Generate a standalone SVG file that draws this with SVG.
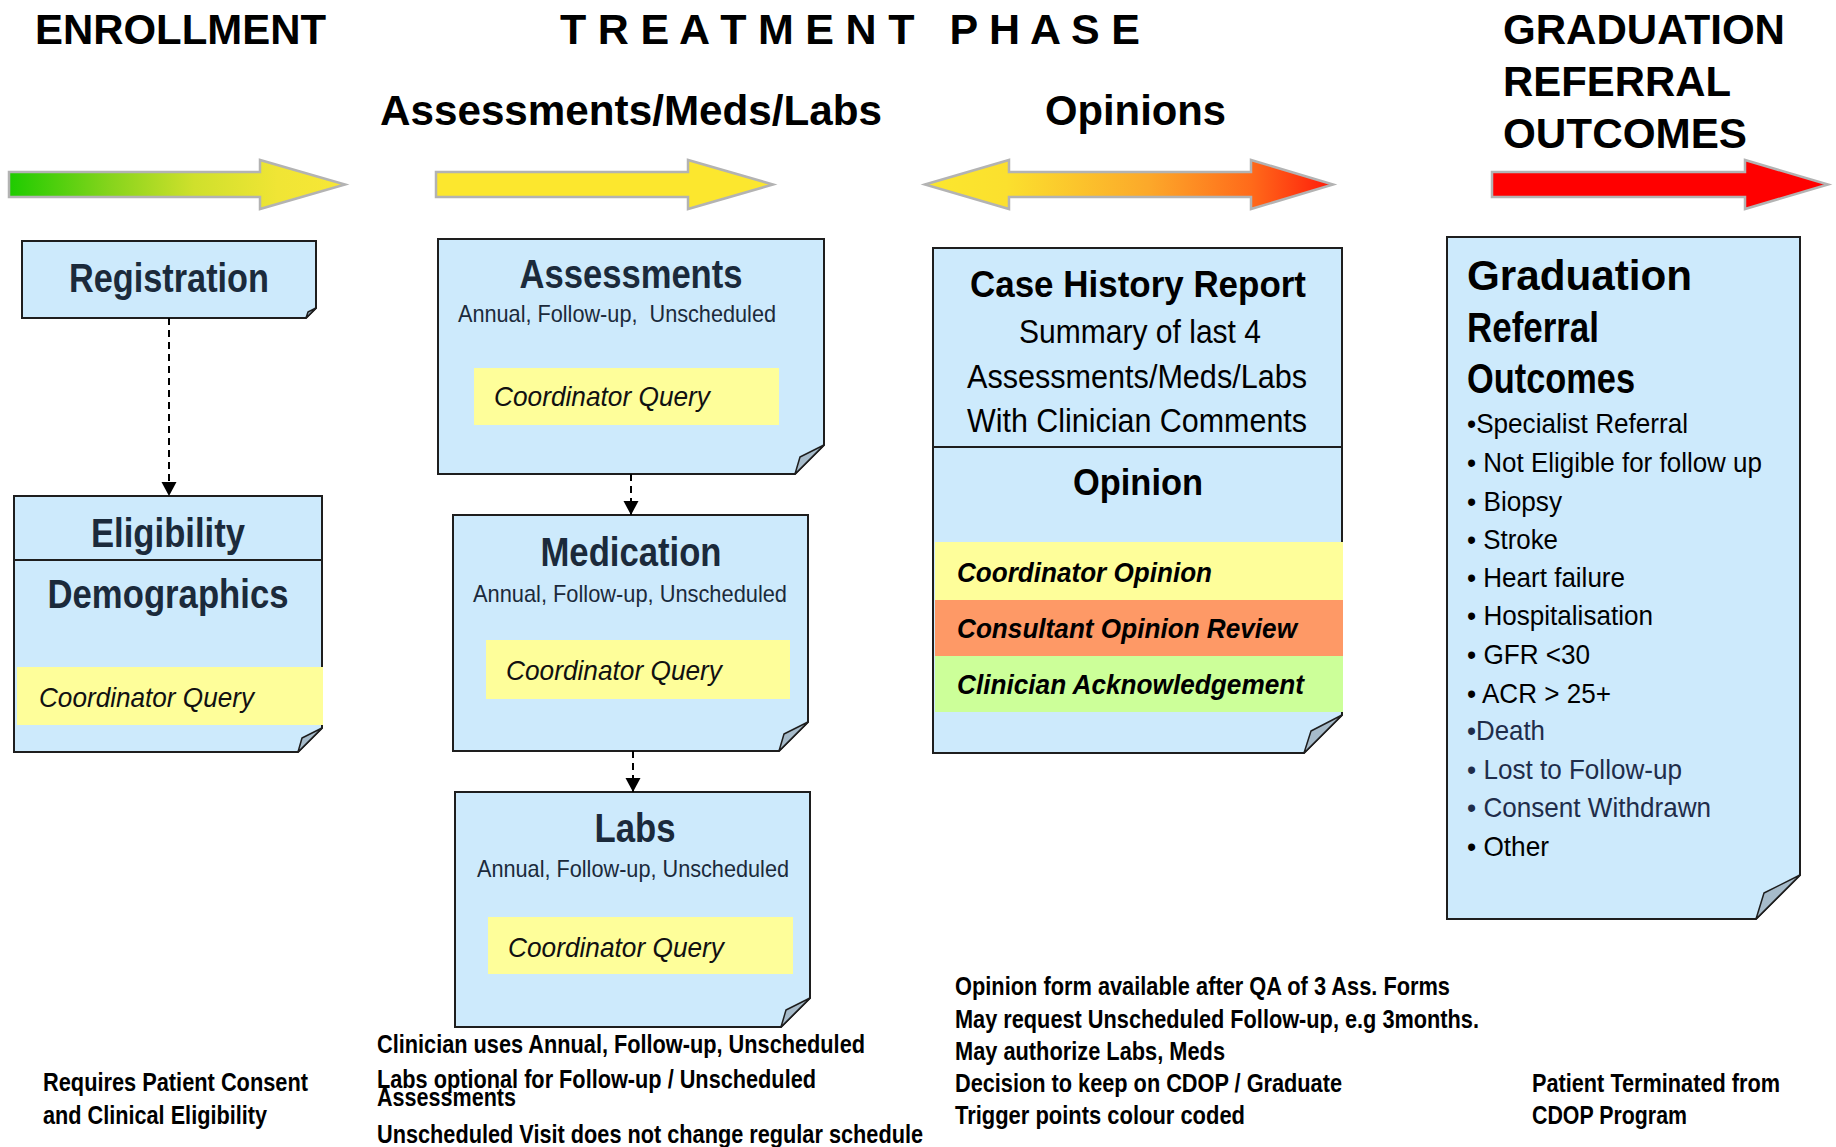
<svg xmlns="http://www.w3.org/2000/svg" width="1836" height="1147" viewBox="0 0 1836 1147">
<defs>
<linearGradient id="gEnroll" gradientUnits="userSpaceOnUse" x1="9" y1="0" x2="345" y2="0">
<stop offset="0" stop-color="#1ecb00"/>
<stop offset="0.3" stop-color="#86d41c"/>
<stop offset="0.55" stop-color="#cfe02c"/>
<stop offset="0.8" stop-color="#f0e535"/>
<stop offset="1" stop-color="#f8e736"/>
</linearGradient>
<linearGradient id="gOpin" gradientUnits="userSpaceOnUse" x1="925" y1="0" x2="1333" y2="0">
<stop offset="0" stop-color="#fbe72e"/>
<stop offset="0.2" stop-color="#fbe02e"/>
<stop offset="0.55" stop-color="#fca82a"/>
<stop offset="0.8" stop-color="#ff6a1a"/>
<stop offset="1" stop-color="#ff1a0a"/>
</linearGradient>
<marker id="ah" markerUnits="userSpaceOnUse" markerWidth="16" markerHeight="16" viewBox="0 0 14 16" refX="14" refY="8" orient="auto">
<path d="M0,0.5 L14,8 L0,15.5 Z" fill="#000"/>
</marker>
</defs>
<style>
text{font-family:"Liberation Sans",Arial,sans-serif}
.hdr{font-weight:bold;fill:#000;font-size:43px}
.arrow{stroke:#b3b3b3;stroke-width:2.5;stroke-linejoin:miter}
.box{fill:#cdeafc;stroke:#1e1e1e;stroke-width:2}
.div{stroke:#1e1e1e;stroke-width:2;fill:none}
.fold{fill:#a6bbca;stroke:#1e1e1e;stroke-width:1.5;stroke-linejoin:round}
.by{fill:#fefe9a}
.bo{fill:#fe9966}
.bg{fill:#ccff99}
.bt{font-weight:bold;fill:#1b2a3b;font-size:41px;text-anchor:middle}
.ch{font-weight:bold;fill:#000;font-size:37px;text-anchor:middle}
.sub{fill:#1b2a3b;font-size:24px}
.cq{font-style:italic;fill:#111;font-size:28px}
.ct{fill:#000;font-size:34px;text-anchor:middle}
.op{font-style:italic;font-weight:bold;fill:#000;font-size:28px}
.gt{font-weight:bold;fill:#000;font-size:43px}
.gb{fill:#000;font-size:27.5px}
.gn{fill:#1f2d4a;font-size:27.5px}
.note{font-weight:bold;fill:#000;font-size:25px}
.conn{stroke:#000;stroke-width:2;stroke-dasharray:7 5;fill:none;marker-end:url(#ah)}
</style>

<g id="headers">
<text class="hdr" x="35" y="44" textLength="291" lengthAdjust="spacingAndGlyphs">ENROLLMENT</text>
<text class="hdr" x="560" y="44" textLength="580" lengthAdjust="spacing">T R E A T M E N T&#160;&#160;&#160;P H A S E</text>
<text class="hdr" x="380" y="125" textLength="502" lengthAdjust="spacingAndGlyphs">Assessments/Meds/Labs</text>
<text class="hdr" x="1045" y="125" textLength="181" lengthAdjust="spacingAndGlyphs">Opinions</text>
<text class="hdr" x="1503" y="44" textLength="282" lengthAdjust="spacingAndGlyphs">GRADUATION</text>
<text class="hdr" x="1503" y="96" textLength="228" lengthAdjust="spacingAndGlyphs">REFERRAL</text>
<text class="hdr" x="1503" y="148" textLength="244" lengthAdjust="spacingAndGlyphs">OUTCOMES</text>
</g>

<g id="phase-arrows">
<path class="arrow" fill="url(#gEnroll)" d="M9,172 H260 V160 L345,184.5 L260,209 V197 H9 Z"/>
<path class="arrow" fill="#fce72e" d="M436,172 H688 V160 L773,184.5 L688,209 V197 H436 Z"/>
<path class="arrow" fill="url(#gOpin)" d="M925,184.5 L1009,160 V172 H1251 V160 L1333,184.5 L1251,209 V197 H1009 V209 Z"/>
<path class="arrow" fill="#ff0000" d="M1492,172 H1745 V160 L1828,184.5 L1745,209 V197 H1492 Z"/>
</g>

<g id="registration">
<path class="box" d="M22,241 H316 V308 L306,318 H22 Z"/>
<path class="fold" d="M306,318 L308,312 L316,308 Z"/>
<text class="bt" x="169" y="292" textLength="200" lengthAdjust="spacingAndGlyphs">Registration</text>
</g>

<g id="eligibility">
<path class="box" d="M14,496 H322 V728 L298,752 H14 Z"/>
<path class="div" d="M14,560 H322"/>
<rect class="by" x="17" y="667" width="306" height="58"/>
<path class="fold" d="M298,752 L302,738 L322,728 Z"/>
<text class="bt" x="168" y="547" textLength="154" lengthAdjust="spacingAndGlyphs">Eligibility</text>
<text class="bt" x="168" y="608" textLength="241" lengthAdjust="spacingAndGlyphs">Demographics</text>
<text class="cq" x="39" y="707" textLength="215" lengthAdjust="spacingAndGlyphs">Coordinator Query</text>
</g>

<g id="assessments">
<path class="box" d="M438,239 H824 V445 L795,474 H438 Z"/>
<rect class="by" x="474" y="368" width="305" height="57"/>
<path class="fold" d="M795,474 L800,457 L824,445 Z"/>
<text class="bt" x="631" y="288" textLength="223" lengthAdjust="spacingAndGlyphs">Assessments</text>
<text class="sub" x="458" y="322" textLength="318" lengthAdjust="spacingAndGlyphs">Annual, Follow-up,&#160; Unscheduled</text>
<text class="cq" x="494" y="406" textLength="216" lengthAdjust="spacingAndGlyphs">Coordinator Query</text>
</g>

<g id="medication">
<path class="box" d="M453,515 H808 V722 L779,751 H453 Z"/>
<rect class="by" x="486" y="640" width="304" height="59"/>
<path class="fold" d="M779,751 L784,734 L808,722 Z"/>
<text class="bt" x="631" y="566" textLength="181" lengthAdjust="spacingAndGlyphs">Medication</text>
<text class="sub" x="473" y="602" textLength="314" lengthAdjust="spacingAndGlyphs">Annual, Follow-up, Unscheduled</text>
<text class="cq" x="506" y="680" textLength="216" lengthAdjust="spacingAndGlyphs">Coordinator Query</text>
</g>

<g id="labs">
<path class="box" d="M455,792 H810 V998 L781,1027 H455 Z"/>
<rect class="by" x="488" y="917" width="305" height="57"/>
<path class="fold" d="M781,1027 L786,1010 L810,998 Z"/>
<text class="bt" x="635" y="842" textLength="81" lengthAdjust="spacingAndGlyphs">Labs</text>
<text class="sub" x="477" y="877" textLength="312" lengthAdjust="spacingAndGlyphs">Annual, Follow-up, Unscheduled</text>
<text class="cq" x="508" y="957" textLength="216" lengthAdjust="spacingAndGlyphs">Coordinator Query</text>
</g>

<g id="case-history">
<path class="box" d="M933,248 H1342 V715 L1304,753 H933 Z"/>
<path class="div" d="M933,447 H1342"/>
<rect class="by" x="935" y="542" width="408" height="58"/>
<rect class="bo" x="935" y="600" width="408" height="56"/>
<rect class="bg" x="935" y="656" width="408" height="56"/>
<path class="fold" d="M1304,753 L1311,731 L1342,715 Z"/>
<text class="ch" x="1138" y="297" textLength="336" lengthAdjust="spacingAndGlyphs">Case History Report</text>
<text class="ct" x="1140" y="343" textLength="242" lengthAdjust="spacingAndGlyphs">Summary of last 4</text>
<text class="ct" x="1137" y="388" textLength="340" lengthAdjust="spacingAndGlyphs">Assessments/Meds/Labs</text>
<text class="ct" x="1137" y="432" textLength="340" lengthAdjust="spacingAndGlyphs">With Clinician Comments</text>
<text class="ch" x="1138" y="495" textLength="130" lengthAdjust="spacingAndGlyphs">Opinion</text>
<text class="op" x="957" y="582" textLength="255" lengthAdjust="spacingAndGlyphs">Coordinator Opinion</text>
<text class="op" x="957" y="638" textLength="340" lengthAdjust="spacingAndGlyphs">Consultant Opinion Review</text>
<text class="op" x="957" y="694" textLength="347" lengthAdjust="spacingAndGlyphs">Clinician Acknowledgement</text>
</g>

<g id="graduation">
<path class="box" d="M1447,237 H1800 V875 L1756,919 H1447 Z"/>
<path class="fold" d="M1756,919 L1764,893 L1800,875 Z"/>
<text class="gt" x="1467" y="290" textLength="225" lengthAdjust="spacingAndGlyphs">Graduation</text>
<text class="gt" x="1467" y="342" textLength="132" lengthAdjust="spacingAndGlyphs">Referral</text>
<text class="gt" x="1467" y="393" textLength="168" lengthAdjust="spacingAndGlyphs">Outcomes</text>
<text class="gb" x="1467" y="433" textLength="221" lengthAdjust="spacingAndGlyphs">•Specialist Referral</text>
<text class="gb" x="1467" y="472" textLength="295" lengthAdjust="spacingAndGlyphs">• Not Eligible for follow up</text>
<text class="gb" x="1467" y="511" textLength="95" lengthAdjust="spacingAndGlyphs">• Biopsy</text>
<text class="gb" x="1467" y="549" textLength="91" lengthAdjust="spacingAndGlyphs">• Stroke</text>
<text class="gb" x="1467" y="587" textLength="158" lengthAdjust="spacingAndGlyphs">• Heart failure</text>
<text class="gb" x="1467" y="625" textLength="186" lengthAdjust="spacingAndGlyphs">• Hospitalisation</text>
<text class="gb" x="1467" y="664" textLength="123" lengthAdjust="spacingAndGlyphs">• GFR &lt;30</text>
<text class="gb" x="1467" y="703" textLength="144" lengthAdjust="spacingAndGlyphs">• ACR &gt; 25+</text>
<text class="gn" x="1467" y="740" textLength="78" lengthAdjust="spacingAndGlyphs">•Death</text>
<text class="gn" x="1467" y="779" textLength="215" lengthAdjust="spacingAndGlyphs">• Lost to Follow-up</text>
<text class="gn" x="1467" y="817" textLength="244" lengthAdjust="spacingAndGlyphs">• Consent Withdrawn</text>
<text class="gb" x="1467" y="856" textLength="82" lengthAdjust="spacingAndGlyphs">• Other</text>
</g>

<g id="connectors">
<path class="conn" d="M169,318 V496"/>
<path class="conn" d="M631,474 V515"/>
<path class="conn" d="M633,751 V792"/>
</g>

<g id="notes">
<text class="note" x="43" y="1091" textLength="265" lengthAdjust="spacingAndGlyphs">Requires Patient Consent</text>
<text class="note" x="43" y="1124" textLength="224" lengthAdjust="spacingAndGlyphs">and Clinical Eligibility</text>
<text class="note" x="377" y="1053" textLength="488" lengthAdjust="spacingAndGlyphs">Clinician uses Annual, Follow-up, Unscheduled</text>
<text class="note" x="377" y="1088" textLength="439" lengthAdjust="spacingAndGlyphs">Labs optional for Follow-up / Unscheduled</text>
<text class="note" x="377" y="1106" textLength="139" lengthAdjust="spacingAndGlyphs">Assessments</text>
<text class="note" x="377" y="1143" textLength="546" lengthAdjust="spacingAndGlyphs">Unscheduled Visit does not change regular schedule</text>
<text class="note" x="955" y="995" textLength="495" lengthAdjust="spacingAndGlyphs">Opinion form available after QA of 3 Ass. Forms</text>
<text class="note" x="955" y="1028" textLength="524" lengthAdjust="spacingAndGlyphs">May request Unscheduled Follow-up, e.g 3months.</text>
<text class="note" x="955" y="1060" textLength="270" lengthAdjust="spacingAndGlyphs">May authorize Labs, Meds</text>
<text class="note" x="955" y="1092" textLength="387" lengthAdjust="spacingAndGlyphs">Decision to keep on CDOP / Graduate</text>
<text class="note" x="955" y="1124" textLength="290" lengthAdjust="spacingAndGlyphs">Trigger points colour coded</text>
<text class="note" x="1532" y="1092" textLength="248" lengthAdjust="spacingAndGlyphs">Patient Terminated from</text>
<text class="note" x="1532" y="1124" textLength="155" lengthAdjust="spacingAndGlyphs">CDOP Program</text>
</g>
</svg>
